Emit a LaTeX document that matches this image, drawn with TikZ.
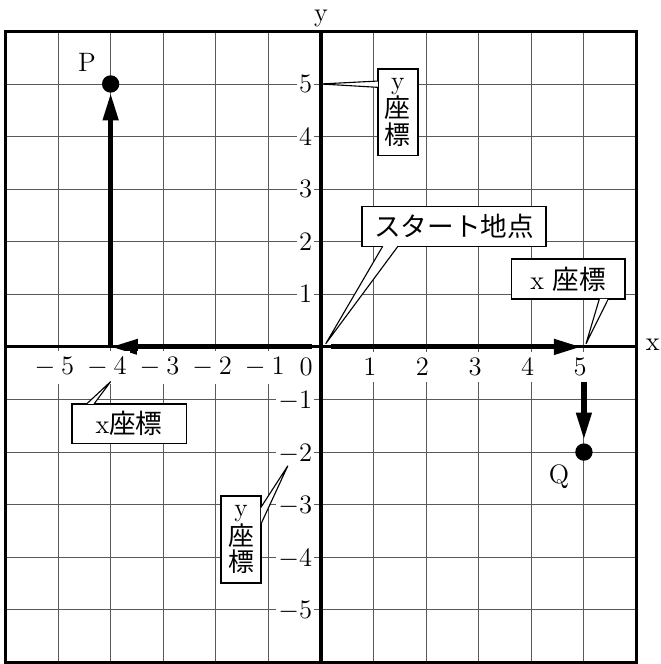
\documentclass[tikz,border=0pt]{standalone}
\usepackage{fontspec}
\newfontfamily\jpfont{Noto Sans CJK JP}
\usepackage{tikz}
\usetikzlibrary{arrows.meta,positioning,calc}
\tikzstyle{gridline}=[line width=0.5pt,black!65]
\tikzstyle{gridframe}=[line width=1.7pt]
\tikzstyle{axisline}=[line width=1.7pt]
\tikzstyle{move}=[-{Triangle[length=5.2mm,width=2.8mm]},line width=2.8pt]
\tikzstyle{spot}=[circle,fill=black,inner sep=0pt,minimum size=3.3mm]
\tikzstyle{xtick}=[fill=white,inner xsep=1.5pt,inner ysep=3.5pt,font=\Large]
\tikzstyle{ytick}=[fill=white,inner xsep=1.2pt,inner ysep=2pt,anchor=east,font=\Large]
\tikzstyle{callbox}=[draw=black,line width=0.9pt,fill=white,inner sep=0pt,font=\Large]
\tikzstyle{pointer}=[draw=black,line width=0.6pt,fill=white]

\begin{document}
\begin{tikzpicture}
    \useasboundingbox (-6.104,-6.03) rectangle (6.447,6.597);

    % Gitter und Achsen
    \draw[gridline] (-6,-6) grid (6,6);
    \draw[gridframe] (-6,-6) rectangle (6,6);
    \draw[axisline] (-6,0) -- (6,0);
    \draw[axisline] (0,-6) -- (0,6);
    \node[font=\Large] (xlab) at (6.31,0.05) {x};
    \node[font=\Large] (ylab) at (0,6.25) {y};

    % Punkte
    \coordinate (O) at (0,0);
    \coordinate (X5) at (5,0);
    \coordinate (Xm4) at (-4,0);
    \node[spot, label={[font=\Large,xshift=-1pt]above left:P}] (P) at (-4,5) {};
    \node[spot, label={[font=\Large,xshift=-1pt]below left:Q}] (Q) at (5,-2) {};

    % Wege
    \draw[move, shorten <=1.9mm, shorten >=0.5mm] (O) -- (X5);
    \draw[move, shorten <=1.7mm] (O) -- (Xm4);
    \draw[move] (Xm4) -- (P);
    \draw[move, shorten <=6.3mm, shorten >=0.6mm] (X5) -- (Q);

    % Skala
    \foreach \x in {1,...,5} \node[xtick] (xt\x) at (\x-0.07,-0.39) {$\x$};
    \foreach \x in {1,...,5} \node[xtick] (xtm\x) at (-\x-0.07,-0.39) {$-\:\x$};
    \node[xtick] (xt0) at (-0.28,-0.39) {$0$};
    \foreach \y in {1,...,5} \node[ytick] (yt\y) at (-0.12,\y) {$\y$};
    \foreach \y in {1,...,5} \node[ytick] (ytm\y) at (-0.12,-\y-0.03) {$-\y$};

    % Sprechblasen
    \coordinate (y5) at (0,5);
    \coordinate (start) at (0.09,0.06);
    \coordinate (x5) at (5.04,0.06);
    \coordinate (xm4) at (-4,-0.66);
    \coordinate (ym2) at (-0.63,-2.26);

    \node[callbox, minimum width=7.6mm, minimum height=16.5mm, align=center,
          font=\fontsize{14}{14.2}\selectfont] (ybox1) at (1.46,4.465) {y\\{\jpfont 座}\\{\jpfont 標}};
    \node[callbox, minimum width=35mm, minimum height=7.6mm] (startbox) at (2.53,2.29) {\jpfont スタート地点};
    \node[callbox, minimum width=21.6mm, minimum height=7.6mm] (xbox1) at (4.70,1.29) {x {\jpfont 座標}};
    \node[callbox, minimum width=21.8mm, minimum height=7.6mm] (xbox2) at (-3.65,-1.46) {x{\jpfont 座標}};
    \node[callbox, minimum width=7.6mm, minimum height=16.5mm, align=center,
          font=\fontsize{14}{14.2}\selectfont] (ybox2) at (-1.52,-3.665) {y\\{\jpfont 座}\\{\jpfont 標}};

    \draw[pointer] ($(ybox1.north west)+(0.02,-0.25)$) -- (y5) -- ($(ybox1.north west)+(0.02,-0.37)$);
    \draw[pointer] ($(startbox.south west)+(0.41,0.02)$) -- (start) -- ($(startbox.south west)+(0.70,0.02)$);
    \draw[pointer] ($(xbox1.south west)+(1.69,0.02)$) -- (x5) -- ($(xbox1.south west)+(1.86,0.02)$);
    \draw[pointer] ($(xbox2.north west)+(0.30,-0.02)$) -- (xm4) -- ($(xbox2.north west)+(0.44,-0.02)$);
    \draw[pointer] ($(ybox2.north east)+(-0.02,-0.23)$) -- (ym2) -- ($(ybox2.north east)+(-0.02,-0.55)$);

\end{tikzpicture}
\end{document}
